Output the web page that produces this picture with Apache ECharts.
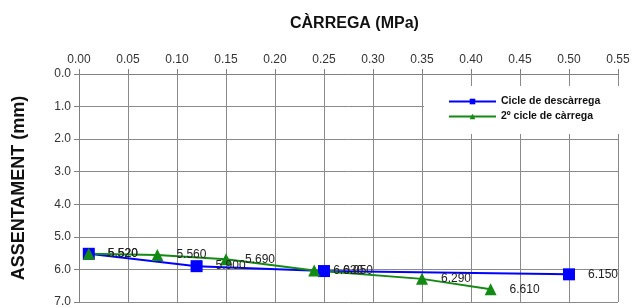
<!DOCTYPE html>
<html>
<head>
<meta charset="utf-8">
<script src="https://cdn.jsdelivr.net/npm/echarts@6/dist/echarts.min.js"></script>
<style>html,body{margin:0;padding:0;background:#fff}#c{width:633px;height:308px}</style>
</head>
<body>
<div id="c"></div>
<script>
const titleText = 'CÀRREGA (MPa)';
const yAxisName = 'ASSENTAMENT (mm)';
const seriesNames = ['Cicle de descàrrega', '2º cicle de càrrega'];
const loadsDescarrega = [0.01, 0.12, 0.25, 0.50];
const settleDescarrega = [5.52, 5.90, 6.05, 6.15];
const loadsCarrega = [0.01, 0.08, 0.15, 0.24, 0.35, 0.42];
const settleCarrega = [5.52, 5.56, 5.69, 6.03, 6.29, 6.61];

const font = 'Liberation Sans, Arial, sans-serif';
const chart = echarts.init(document.getElementById('c'));
const pairs = (xs, ys) => xs.map((x, i) => [x, ys[i]]);
const labelCfg = {
  show: true, position: 'right', distance: 13,
  formatter: p => p.value[1].toFixed(3),
  fontFamily: font, fontSize: 12, color: '#222'
};
chart.setOption({
  animation: false,
  title: {
    text: titleText, left: 285, top: 11,
    textStyle: {fontFamily: font, fontSize: 16, fontWeight: 'bold', color: '#111'}
  },
  legend: {
    orient: 'vertical', left: 424, top: 86,
    padding: [10, 20, 12, 24], itemGap: 4,
    backgroundColor: '#fff',
    itemWidth: 47, itemHeight: 7,
    textStyle: {fontFamily: font, fontSize: 10.5, fontWeight: 'bold', color: '#111'},
    data: seriesNames
  },
  grid: {left: 79, right: 15, top: 74, bottom: 4, containLabel: false},
  xAxis: {
    type: 'value', position: 'top', min: 0, max: 0.55, interval: 0.05,
    axisLine: {show: true, lineStyle: {color: '#808080'}},
    axisTick: {show: true, length: 5, lineStyle: {color: '#808080'}},
    axisLabel: {formatter: v => v.toFixed(2), fontFamily: font, fontSize: 12, color: '#333', margin: 8},
    splitLine: {show: true, lineStyle: {color: '#8a8a8a', width: 1}}
  },
  yAxis: {
    type: 'value', inverse: true, min: 0, max: 7, interval: 1,
    name: yAxisName, nameLocation: 'middle', nameGap: 51, nameRotate: 90,
    nameTextStyle: {fontFamily: font, fontSize: 18, fontWeight: 'bold', color: '#111'},
    axisLine: {show: true, lineStyle: {color: '#808080'}},
    axisTick: {show: true, length: 5, lineStyle: {color: '#808080'}},
    axisLabel: {formatter: v => v.toFixed(1), fontFamily: font, fontSize: 12, color: '#333', margin: 8},
    splitLine: {show: true, lineStyle: {color: '#8a8a8a', width: 1}}
  },
  series: [
    {
      name: seriesNames[0], type: 'line', data: pairs(loadsDescarrega, settleDescarrega),
      symbol: 'rect', symbolSize: 12,
      lineStyle: {color: '#0000ff', width: 2}, itemStyle: {color: '#0000ff'},
      label: labelCfg
    },
    {
      name: seriesNames[1], type: 'line', data: pairs(loadsCarrega, settleCarrega),
      symbol: 'triangle', symbolSize: 12,
      lineStyle: {color: '#138a13', width: 2}, itemStyle: {color: '#138a13'},
      label: labelCfg
    }
  ]
});
</script>
</body>
</html>
